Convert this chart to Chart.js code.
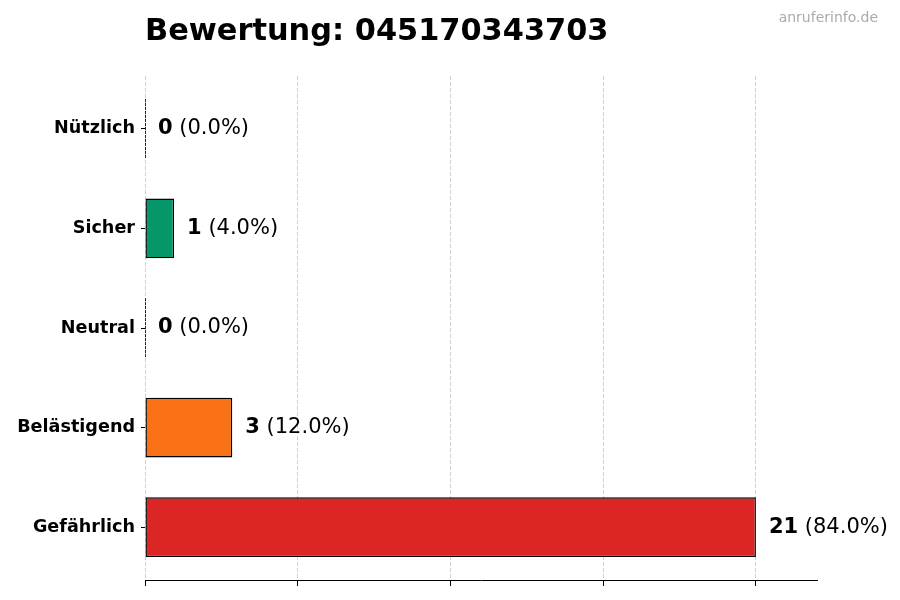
<!DOCTYPE html>
<html>
<head>
<meta charset="utf-8">
<script src="https://cdn.jsdelivr.net/npm/chart.js@4.4.1/dist/chart.umd.min.js"></script>
<style>
  html, body { margin: 0; padding: 0; background: #fff; }
  #wrap { width: 900px; height: 600px; }
</style>
</head>
<body>
<div id="wrap"><canvas id="grafico" width="900" height="600"></canvas></div>
<script>
// =========================
// DADOS
// =========================
const titulo     = "Bewertung: 045170343703";
const marca      = "anruferinfo.de";
const categorias = ["Nützlich", "Sicher", "Neutral", "Belästigend", "Gefährlich"];
const anzahl     = [0, 1, 0, 3, 21];
const farben     = ["#2563eb", "#059669", "#6b7280", "#f97316", "#dc2626"];
const xTicks     = [0, 5.25, 10.5, 15.75, 21];
const xMax       = 23.1;
const yMin       = -0.53;
const yMax       = 4.53;

const FONT = "'DejaVu Sans', sans-serif";
const gesamt = anzahl.reduce((a, b) => a + b, 0);
const pontos = anzahl.map((v, i) => ({ x: v, y: i }));

// =========================
// PLUGIN: titulo, marca, rótulos
// =========================
const rotulos = {
  id: "rotulos",
  afterDraw(chart) {
    const ctx = chart.ctx;
    const area = chart.chartArea;
    const meta = chart.getDatasetMeta(0);

    ctx.save();

    // linhas dos valores zero
    meta.data.forEach((bar, i) => {
      if (anzahl[i] !== 0) return;
      const h = bar.height;
      ctx.strokeStyle = "#222";
      ctx.lineWidth = 1;
      ctx.setLineDash([3, 1]);
      ctx.beginPath();
      ctx.moveTo(Math.round(bar.x) + 0.5, bar.y - h / 2);
      ctx.lineTo(Math.round(bar.x) + 0.5, bar.y + h / 2);
      ctx.stroke();
    });
    ctx.setLineDash([]);

    // valores
    ctx.textBaseline = "middle";
    ctx.textAlign = "left";
    meta.data.forEach((bar, i) => {
      const x = bar.x + 13;
      const y = bar.y;
      const n = String(anzahl[i]);
      const p = " (" + (anzahl[i] / gesamt * 100).toFixed(1) + "%)";
      ctx.fillStyle = "#000";
      ctx.font = "bold 21px " + FONT;
      ctx.fillText(n, x, y);
      const w = ctx.measureText(n).width;
      ctx.font = "21px " + FONT;
      ctx.fillText(p, x + w, y);
    });

    // titulo
    ctx.textBaseline = "alphabetic";
    ctx.font = "bold 30.4px " + FONT;
    ctx.fillStyle = "#000";
    ctx.fillText(titulo, area.left, 40);

    // marca
    ctx.textAlign = "right";
    ctx.textBaseline = "middle";
    ctx.font = "14px " + FONT;
    ctx.fillStyle = "#aaaaaa";
    ctx.fillText(marca, 878, 18);

    ctx.restore();
  }
};

// =========================
// GRÁFICO
// =========================
new Chart(document.getElementById("grafico"), {
  type: "bar",
  data: {
    datasets: [{
      data: pontos,
      backgroundColor: farben,
      borderColor: "#000",
      borderWidth: 1.4,
      borderSkipped: false,
      categoryPercentage: 1,
      barPercentage: 0.6
    }]
  },
  options: {
    indexAxis: "y",
    responsive: false,
    animation: false,
    layout: { padding: { left: 0, right: 83, top: 76, bottom: 0 } },
    plugins: {
      legend: { display: false },
      tooltip: { enabled: false }
    },
    scales: {
      x: {
        type: "linear",
        min: 0,
        max: xMax,
        z: 1,
        afterFit: s => { s.height = 20; },
        afterBuildTicks: s => { s.ticks = xTicks.map(v => ({ value: v })); },
        ticks: { display: false, includeBounds: false },
        grid: {
          color: "#d0d0d0",
          lineWidth: 1,
          tickColor: "#000",
          tickLength: 6,
          tickWidth: 1
        },
        border: { display: true, color: "#000", width: 1, dash: [4, 2] }
      },
      y: {
        type: "linear",
        reverse: true,
        offset: false,
        min: yMin,
        max: yMax,
        afterFit: s => { s.width = 145; },
        afterBuildTicks: s => { s.ticks = categorias.map((c, i) => ({ value: i })); },
        ticks: {
          color: "#000",
          padding: 6,
          autoSkip: false,
          callback: v => categorias[v],
          font: { family: FONT, size: 17.6, weight: "bold" }
        },
        grid: {
          offset: false,
          drawOnChartArea: false,
          drawTicks: true,
          tickLength: 4,
          tickColor: "#000"
        },
        border: { display: false }
      }
    }
  },
  plugins: [rotulos]
});
</script>
</body>
</html>
